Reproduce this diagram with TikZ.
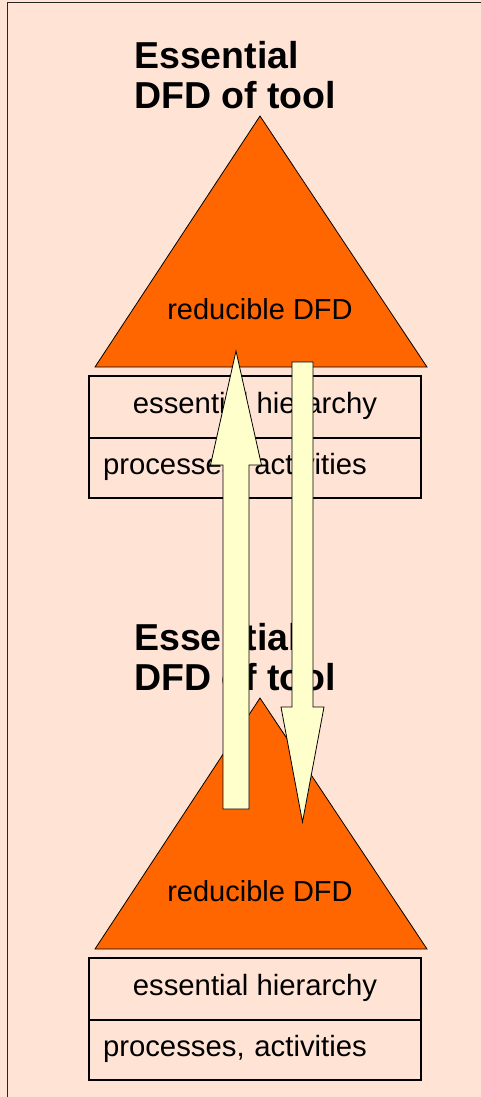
\documentclass[tikz,border=0pt]{standalone}
\usepackage{fontspec}
\setmainfont{Liberation Sans}
\usepackage{tikz}
\usetikzlibrary{positioning,calc}
\definecolor{dfdpeach}{RGB}{255,228,214}
\definecolor{dfdorange}{RGB}{255,102,0}
\definecolor{dfdcream}{RGB}{255,255,204}
\tikzstyle{dfdtri} = [fill=dfdorange, draw=black, line width=0.8pt, line join=miter]
\tikzstyle{cellbox} = [rectangle, draw=black, line width=2.8pt, minimum width=332pt, minimum height=62pt, inner sep=0pt, outer sep=0pt, font=\fontsize{29.3}{32}\selectfont, text height=21pt, text depth=8pt]
\tikzstyle{titletext} = [anchor=north west, inner sep=0pt, align=left, font=\fontsize{37.5}{40}\selectfont\bfseries]
\tikzstyle{redtext} = [anchor=base, inner sep=0pt, font=\fontsize{29}{32}\selectfont]
\tikzstyle{bigarrow} = [fill=dfdcream, draw=black, line width=0.8pt, line join=miter]
\begin{document}
\begin{tikzpicture}[x=1pt,y=-1pt]
\useasboundingbox (0,0) rectangle (481,1097);
\fill[dfdpeach] (0,0) rectangle (481,1097);
\draw[line width=1pt, color=black!85] (7,1110) -- (7,3) -- (495,3);

% Upper essential DFD
\node[titletext] (title1) at (134,41) {Essential\\DFD of tool};
\draw[dfdtri] (260,116) coordinate (apex1) -- (427,367) -- (95,367) -- cycle;
\node[redtext] (red1) at (260,319) {reducible DFD};
\node[cellbox] (ess1) at (255,407) {essential hierarchy};
\node[cellbox, below=0pt of ess1, minimum height=60pt, text width=304pt, inner xsep=14pt, align=left] (proc1) {processes, activities};

% Lower essential DFD
\node[titletext] (title2) at (134,623) {Essential\\DFD of tool};
\draw[dfdtri] (260,698) coordinate (apex2) -- (427,949) -- (95,949) -- cycle;
\node[redtext] (red2) at (260,901) {reducible DFD};
\node[cellbox] (ess2) at (255,989) {essential hierarchy};
\node[cellbox, below=0pt of ess2, minimum height=60pt, text width=304pt, inner xsep=14pt, align=left] (proc2) {processes, activities};

% Arrows between the two levels
\coordinate (uptail) at (236,809);
\coordinate (uptip) at (236,351);
\coordinate (downtail) at (302.5,362);
\coordinate (downtip) at (302.5,822);
\draw[bigarrow] ($(uptail)+(-13,0)$) -- ($(uptip)+(-13,114)$) -- ($(uptip)+(-25.5,114)$) -- (uptip)
  -- ($(uptip)+(25.5,114)$) -- ($(uptip)+(13,114)$) -- ($(uptail)+(13,0)$) -- cycle;
\draw[bigarrow] ($(downtail)+(-10.5,0)$) -- ($(downtip)+(-10.5,-115)$) -- ($(downtip)+(-21.5,-115)$) -- (downtip)
  -- ($(downtip)+(21.5,-115)$) -- ($(downtip)+(10.5,-115)$) -- ($(downtail)+(10.5,0)$) -- cycle;
\end{tikzpicture}
\end{document}
